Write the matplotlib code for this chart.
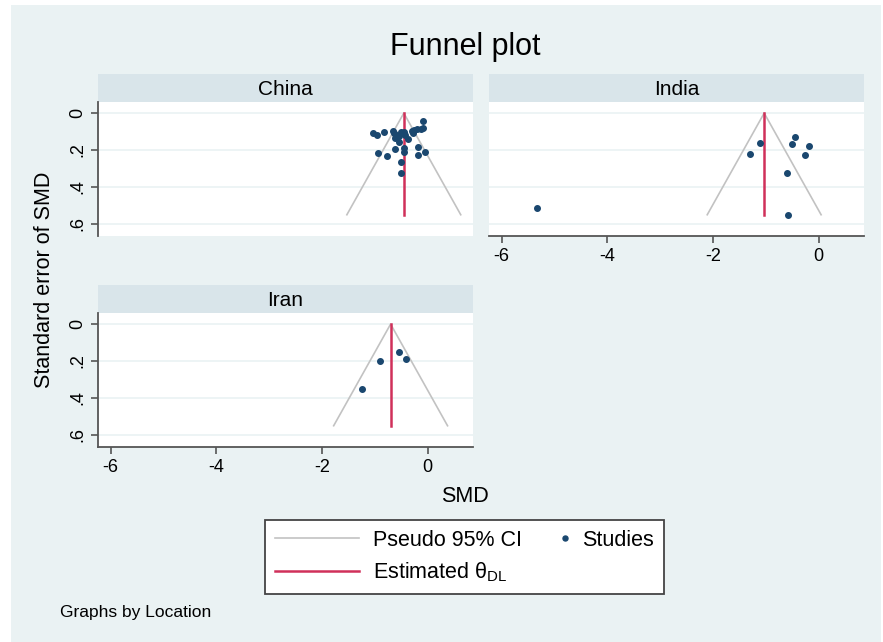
import matplotlib
matplotlib.use('Agg')
import matplotlib.pyplot as plt
from matplotlib.lines import Line2D
from matplotlib.legend_handler import HandlerLine2D
from matplotlib.patches import Rectangle

plt.rcParams['font.family'] = ['Liberation Sans', 'DejaVu Sans']
plt.rcParams['mathtext.fontset'] = 'custom'
plt.rcParams['mathtext.rm'] = 'Liberation Sans'
plt.rcParams['axes.unicode_minus'] = False

# data
locations = ['China', 'India', 'Iran']
theta = [-0.45, -1.03, -0.70]          # estimated theta (DL) per location

china_smd = [-1.03, -0.96, -0.83, -0.66, -0.64, -0.59, -0.54, -0.50, -0.45, -0.43,
             -0.62, -0.54, -0.38, -0.29, -0.25, -0.20, -0.09, -0.09, -0.13, -0.28,
             -0.18, -0.04, -0.18, -0.45, -0.45, -0.62, -0.76, -0.94, -0.51, -0.51]
china_se = [0.106, 0.119, 0.101, 0.097, 0.110, 0.119, 0.124, 0.101, 0.101, 0.119,
            0.137, 0.155, 0.142, 0.096, 0.092, 0.088, 0.041, 0.083, 0.088, 0.110,
            0.182, 0.209, 0.227, 0.191, 0.213, 0.196, 0.231, 0.214, 0.267, 0.323]

india_smd = [-0.45, -0.51, -0.18, -0.26, -1.11, -1.30, -0.59, -0.57, -5.34]
india_se = [0.128, 0.168, 0.178, 0.227, 0.160, 0.222, 0.326, 0.550, 0.515]

iran_smd = [-0.54, -0.40, -0.91, -1.25]
iran_se = [0.151, 0.187, 0.202, 0.351]

smd = [china_smd, india_smd, iran_smd]
se = [china_se, india_se, iran_se]

xticks = [-6, -4, -2, 0]
yticks = [0, 0.2, 0.4, 0.6]
ytick_labels = ['0', '.2', '.4', '.6']

W, H = 883, 642
bg = '#EAF2F3'
strip_col = '#D9E5EA'
axis_col = '#555555'
dot_col = '#1A476F'
ci_col = '#C2C2C2'
est_col = '#D0305A'


def box(l, t, r, b):
    return [l / W, 1 - b / H, (r - l) / W, (b - t) / H]


# legend handler that puts the single marker at the right end of the handle
class RightDot(HandlerLine2D):
    def get_xdata(self, legend, xdescent, ydescent, width, height, fontsize):
        end = -xdescent + width
        x = [end - 0.3 * fontsize, end]
        return x, x


fig = plt.figure(figsize=(W / 100, H / 100), dpi=100, facecolor='white')
fig.patches.append(Rectangle((11 / W, 0), 870 / W, 1 - 5 / H, transform=fig.transFigure,
                             facecolor=bg, edgecolor='none', zorder=-10))

panels = [(98, 102, 473, 236), (489, 102, 864, 236), (98, 313, 473, 447)]
se_max = max(max(s) for s in se)

for i, (l, t, r, b) in enumerate(panels):
    # strip with location name
    sax = fig.add_axes(box(l, t - 28, r, t))
    sax.set_facecolor(strip_col)
    sax.set_xticks([]); sax.set_yticks([])
    for s in sax.spines.values():
        s.set_visible(False)
    sax.text(0.5, 0.45, locations[i], ha='center', va='center', fontsize=15)

    ax = fig.add_axes(box(l, t, r, b))
    ax.set_facecolor('white')
    ax.set_xlim(-6.24, 0.86)
    ax.set_ylim(0.665, -0.06)
    ax.set_yticks(yticks)
    ax.set_xticks(xticks)
    ax.grid(axis='y', color=bg, lw=1.2)
    ax.set_axisbelow(True)
    for s in ['top', 'right']:
        ax.spines[s].set_visible(False)
    ax.spines['left'].set_color(axis_col)
    ax.spines['bottom'].set_color(axis_col)
    ax.spines['left'].set_linewidth(1.3)
    ax.spines['bottom'].set_linewidth(1.3)
    ax.tick_params(colors=axis_col, length=5, width=1.2, labelsize=13, labelcolor='black')

    if i == 1:
        ax.spines['left'].set_visible(False)
        ax.tick_params(axis='y', left=False, labelleft=False)
    else:
        ax.set_yticklabels(ytick_labels, rotation=90, va='center')
    if i == 0:
        ax.spines['bottom'].set_visible(False)
        ax.tick_params(axis='x', bottom=False, labelbottom=False)

    th = theta[i]
    half = 1.96 * se_max
    ax.plot([th - half, th, th + half], [se_max, 0, se_max], color=ci_col, lw=1.2, zorder=2)
    ax.plot([th, th], [0, se_max], color=est_col, lw=1.8, zorder=3)
    ax.plot(smd[i], se[i], 'o', color=dot_col, ms=4.0, zorder=4)

fig.text(465 / W, 1 - 47 / H, 'Funnel plot', ha='center', va='center', fontsize=22)
fig.text(45 / W, 1 - 280 / H, 'Standard error of SMD', ha='center', va='center',
         rotation=90, fontsize=15.5)
fig.text(465 / W, 1 - 497 / H, 'SMD', ha='center', va='center', fontsize=15.5)
fig.text(60 / W, 1 - 612 / H, 'Graphs by Location', ha='left', va='center', fontsize=12.5)

h_ci = Line2D([], [], color=ci_col, lw=1.2)
h_est = Line2D([], [], color=est_col, lw=1.8)
h_dot = Line2D([], [], color=dot_col, marker='o', ls='none', ms=3.6)
leg = fig.legend([h_ci, h_est, h_dot],
                 ['Pseudo 95% CI', r'Estimated θ$_{\mathrm{DL}}$', 'Studies'],
                 handler_map={h_dot: RightDot(numpoints=1)},
                 ncol=2, loc='center', bbox_to_anchor=(464.5 / W, 1 - 557 / H),
                 fontsize=15.5, handlelength=3.9, handletextpad=0.65,
                 columnspacing=-1.75, borderpad=0.45, labelspacing=0.45,
                 fancybox=False, framealpha=1, edgecolor='#444444')
leg.get_frame().set_linewidth(1.3)

fig.savefig('out.png', dpi=100, facecolor=fig.get_facecolor())
